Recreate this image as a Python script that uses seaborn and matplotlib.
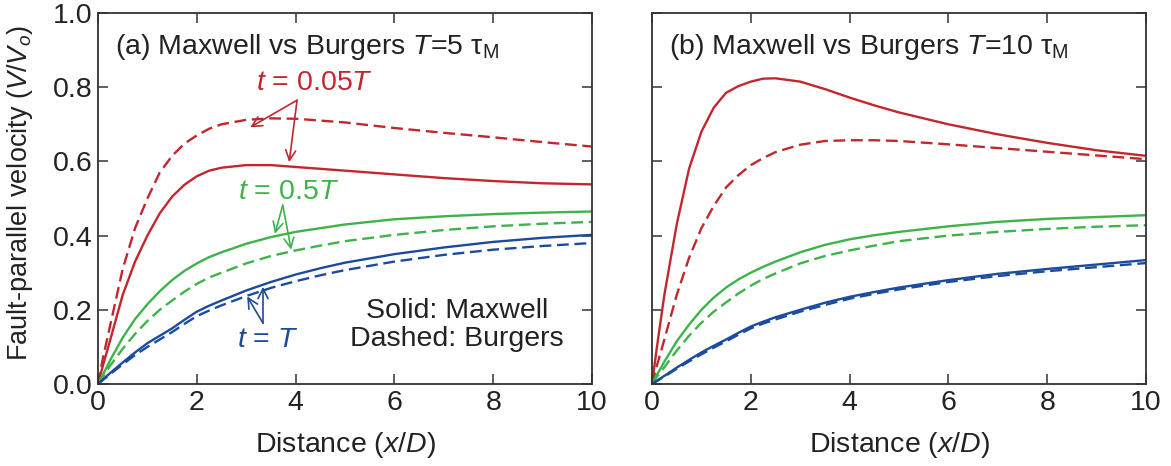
import numpy as np
import pandas as pd
import matplotlib
matplotlib.use("Agg")
import matplotlib.pyplot as plt
import seaborn as sns

# ---- data: fault-parallel velocity profiles (V/Vo) vs distance (x/D) ----
dist = [0, 0.1, 0.25, 0.5, 0.75, 1, 1.25, 1.5, 1.75, 2, 2.25, 2.5, 3, 3.5, 4, 4.5, 5, 6, 7, 8, 9, 10]

# panel (a): T = 5 tau_M
a_max_005 = [0, 0.05, 0.12, 0.24, 0.33, 0.40, 0.46, 0.505, 0.537, 0.56, 0.575, 0.583, 0.59, 0.59, 0.585, 0.58, 0.575, 0.565, 0.555, 0.547, 0.541, 0.538]
a_bur_005 = [0, 0.07, 0.16, 0.31, 0.42, 0.50, 0.57, 0.615, 0.648, 0.67, 0.688, 0.70, 0.712, 0.716, 0.715, 0.71, 0.705, 0.69, 0.677, 0.665, 0.652, 0.64]
a_max_05 = [0, 0.025, 0.065, 0.125, 0.175, 0.215, 0.25, 0.28, 0.305, 0.325, 0.342, 0.355, 0.378, 0.396, 0.41, 0.42, 0.43, 0.444, 0.452, 0.458, 0.462, 0.465]
a_bur_05 = [0, 0.02, 0.05, 0.095, 0.135, 0.17, 0.20, 0.225, 0.249, 0.27, 0.287, 0.30, 0.325, 0.345, 0.36, 0.373, 0.385, 0.402, 0.415, 0.425, 0.432, 0.437]
a_max_1 = [0, 0.012, 0.03, 0.058, 0.085, 0.11, 0.13, 0.15, 0.173, 0.195, 0.211, 0.225, 0.252, 0.275, 0.295, 0.312, 0.327, 0.35, 0.368, 0.383, 0.394, 0.402]
a_bur_1 = [0, 0.011, 0.027, 0.053, 0.078, 0.10, 0.12, 0.14, 0.162, 0.183, 0.198, 0.212, 0.237, 0.259, 0.277, 0.293, 0.307, 0.33, 0.348, 0.362, 0.372, 0.38]

# panel (b): T = 10 tau_M
b_max_005 = [0, 0.10, 0.24, 0.43, 0.58, 0.68, 0.745, 0.785, 0.803, 0.815, 0.823, 0.824, 0.815, 0.795, 0.772, 0.751, 0.732, 0.70, 0.673, 0.65, 0.63, 0.615]
b_bur_005 = [0, 0.05, 0.12, 0.24, 0.34, 0.42, 0.48, 0.53, 0.563, 0.59, 0.609, 0.625, 0.645, 0.655, 0.657, 0.657, 0.655, 0.646, 0.636, 0.626, 0.616, 0.606]
b_max_05 = [0, 0.025, 0.06, 0.115, 0.16, 0.20, 0.233, 0.26, 0.282, 0.30, 0.316, 0.33, 0.355, 0.375, 0.39, 0.401, 0.41, 0.425, 0.437, 0.445, 0.45, 0.455]
b_bur_05 = [0, 0.02, 0.045, 0.09, 0.13, 0.165, 0.195, 0.22, 0.244, 0.265, 0.283, 0.298, 0.325, 0.345, 0.36, 0.373, 0.385, 0.40, 0.41, 0.418, 0.424, 0.428]
b_max_1 = [0, 0.009, 0.022, 0.044, 0.065, 0.085, 0.103, 0.12, 0.138, 0.155, 0.168, 0.18, 0.20, 0.219, 0.235, 0.248, 0.26, 0.28, 0.297, 0.31, 0.322, 0.334]
b_bur_1 = [0, 0.008, 0.02, 0.041, 0.061, 0.08, 0.098, 0.115, 0.133, 0.15, 0.163, 0.174, 0.195, 0.213, 0.23, 0.243, 0.255, 0.275, 0.291, 0.304, 0.315, 0.326]

time_labels = ["0.05T", "0.5T", "T"]
model_labels = ["Maxwell", "Burgers"]
panel_titles = [r"(a) Maxwell vs Burgers $T$=5 τ$_\mathrm{M}$",
                r"(b) Maxwell vs Burgers $T$=10 τ$_\mathrm{M}$"]
x_ticks = [0, 2, 4, 6, 8, 10]
y_ticks = [0.0, 0.2, 0.4, 0.6, 0.8, 1.0]

RED, GREEN, BLUE = "#C1272D", "#3DB34A", "#1C4B9E"
palette = {"0.05T": RED, "0.5T": GREEN, "T": BLUE}
dashes = {"Maxwell": "", "Burgers": (5.0, 2.4)}


def long_frame(series):
    rows = []
    for (t, m), vals in series.items():
        for xv, yv in zip(dist, vals):
            rows.append({"x": xv, "v": yv, "time": t, "model": m})
    return pd.DataFrame(rows)


df_a = long_frame({("0.05T", "Maxwell"): a_max_005, ("0.05T", "Burgers"): a_bur_005,
                   ("0.5T", "Maxwell"): a_max_05, ("0.5T", "Burgers"): a_bur_05,
                   ("T", "Maxwell"): a_max_1, ("T", "Burgers"): a_bur_1})
df_b = long_frame({("0.05T", "Maxwell"): b_max_005, ("0.05T", "Burgers"): b_bur_005,
                   ("0.5T", "Maxwell"): b_max_05, ("0.5T", "Burgers"): b_bur_05,
                   ("T", "Maxwell"): b_max_1, ("T", "Burgers"): b_bur_1})

sns.set_theme(style="ticks")
plt.rcParams["font.family"] = ["Liberation Sans", "DejaVu Sans"]
plt.rcParams["mathtext.fontset"] = "custom"
plt.rcParams["mathtext.rm"] = "Liberation Sans"
plt.rcParams["mathtext.it"] = "Liberation Sans:italic"
plt.rcParams["mathtext.bf"] = "Liberation Sans:bold"

FS = 20.5
TXT = "#222222"

fig = plt.figure(figsize=(11.71, 4.66), dpi=100)
ax_a = fig.add_axes([98 / 1171, 1 - 384 / 466, 494 / 1171, 371 / 466])
ax_b = fig.add_axes([652 / 1171, 1 - 384 / 466, 494 / 1171, 371 / 466])

for ax, df, title in [(ax_a, df_a, panel_titles[0]), (ax_b, df_b, panel_titles[1])]:
    sns.lineplot(data=df, x="x", y="v", hue="time", style="model",
                 hue_order=time_labels, style_order=model_labels,
                 palette=palette, dashes=dashes, linewidth=1.7,
                 legend=False, ax=ax, sort=False)
    ax.set_xlim(0, 10)
    ax.set_ylim(0, 1.0)
    ax.set_xticks(x_ticks)
    ax.set_yticks(y_ticks)
    ax.set_xlabel("")
    ax.set_ylabel("")
    ax.tick_params(direction="in", length=7, width=1.1, top=True, right=True,
                   labelsize=FS, colors="#333333", labelcolor=TXT, pad=4)
    for sp in ax.spines.values():
        sp.set_linewidth(1.3)
        sp.set_color("#333333")
    ax.text(0.34, 0.89, title, fontsize=FS, color=TXT, ha="left", va="baseline")

ax_a.set_yticklabels([f"{v:.1f}" for v in y_ticks])
ax_b.set_yticklabels([])
for ax in (ax_a, ax_b):
    ax.set_xticklabels([str(v) for v in x_ticks])

# annotations in panel (a)
arrow_kw = dict(arrowstyle="->,head_length=0.6,head_width=0.3", lw=1.2, shrinkA=0, shrinkB=0)
ax_a.text(4.39, 0.812, r"$t$ = 0.05$T$", color=RED, fontsize=FS, ha="center", va="center")
for tgt in [(3.08, 0.692), (3.87, 0.598)]:
    ax_a.annotate("", xy=tgt, xytext=(4.03, 0.765), arrowprops=dict(color=RED, **arrow_kw))

ax_a.text(3.85, 0.518, r"$t$ = 0.5$T$", color=GREEN, fontsize=FS, ha="center", va="center")
for tgt in [(3.58, 0.405), (3.91, 0.362)]:
    ax_a.annotate("", xy=tgt, xytext=(3.74, 0.482), arrowprops=dict(color=GREEN, **arrow_kw))

ax_a.text(3.43, 0.119, r"$t$ = $T$", color=BLUE, fontsize=FS, ha="center", va="center")
for tgt in [(3.02, 0.236), (3.34, 0.262)]:
    ax_a.annotate("", xy=tgt, xytext=(3.34, 0.164), arrowprops=dict(color=BLUE, **arrow_kw))

ax_a.text(7.27, 0.16, "Solid: Maxwell\nDashed: Burgers", color=TXT, fontsize=FS,
          ha="center", va="center", multialignment="center", linespacing=1.1)

# axis labels
fig.text(20 / 1171, 1 - 193 / 466, r"Fault-parallel velocity ($V$/$V_o$)", rotation=90,
         fontsize=FS - 1, color=TXT, ha="center", va="center")
for ax in (ax_a, ax_b):
    pos = ax.get_position()
    fig.text((pos.x0 + pos.x1) / 2, 1 - 445 / 466, r"Distance ($x$/$D$)",
             fontsize=FS, color=TXT, ha="center", va="center")

fig.savefig("out.png", dpi=100, facecolor="white")
